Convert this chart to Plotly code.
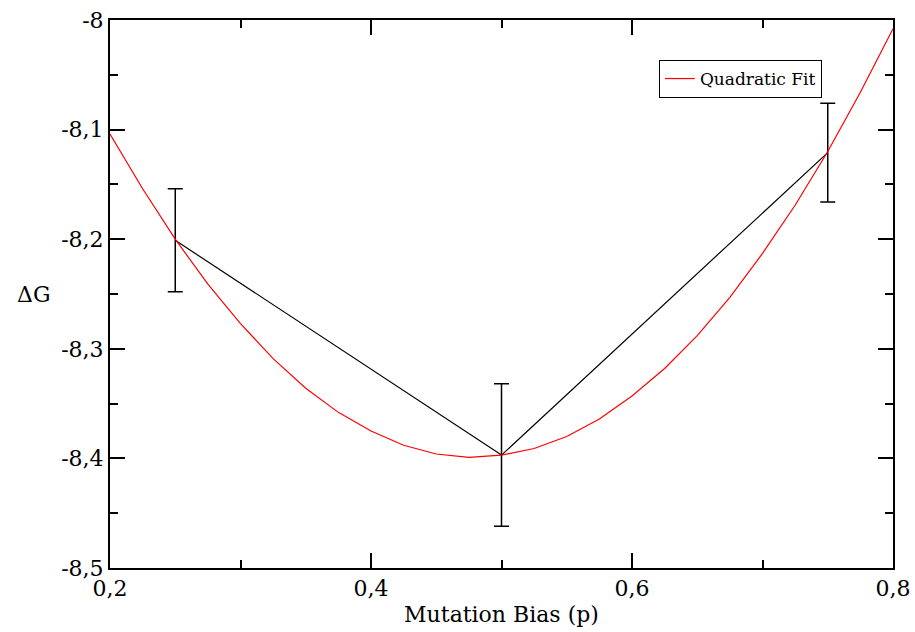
import plotly.graph_objects as go

# Data points with error bars
bias = [0.25, 0.5, 0.75]
delta_g = [-8.201, -8.397, -8.121]
delta_g_err = [0.047, 0.065, 0.045]

# Quadratic fit curve
fit_x = [0.2, 0.225, 0.25, 0.275, 0.3, 0.325, 0.35, 0.375, 0.4, 0.425, 0.45, 0.475,
         0.5, 0.525, 0.55, 0.575, 0.6, 0.625, 0.65, 0.675, 0.7, 0.725, 0.75, 0.775, 0.8]
fit_y = [-8.104, -8.154, -8.200, -8.241, -8.277, -8.309, -8.336, -8.358, -8.375, -8.388,
         -8.396, -8.399, -8.397, -8.391, -8.380, -8.364, -8.343, -8.318, -8.288, -8.253,
         -8.213, -8.169, -8.120, -8.066, -8.008]

x_ticks = [0.2, 0.4, 0.6, 0.8]
x_tick_text = ["0,2", "0,4", "0,6", "0,8"]
y_ticks = [-8.5, -8.4, -8.3, -8.2, -8.1, -8.0]
y_tick_text = ["-8,5", "-8,4", "-8,3", "-8,2", "-8,1", "-8"]

FONT = "DejaVu Serif"
TICKFONT = dict(family=FONT, size=22, color="black")

fig = go.Figure()
fig.add_trace(go.Scatter(
    x=bias, y=delta_g, mode="lines",
    line=dict(color="black", width=1.2),
    error_y=dict(type="data", array=delta_g_err, visible=True,
                 color="black", thickness=1.5, width=7.5),
    showlegend=False,
))
fig.add_trace(go.Scatter(
    x=fit_x, y=fit_y, mode="lines",
    line=dict(color="red", width=1.2),
    name="Quadratic Fit",
))

fig.update_layout(
    width=915, height=632,
    margin=dict(l=110, r=22, t=20, b=64),
    plot_bgcolor="white", paper_bgcolor="white",
    separators=",.",
    font=dict(family=FONT, size=22, color="black"),
    xaxis=dict(
        range=[0.2, 0.8], tickmode="array", tickvals=x_ticks, ticktext=x_tick_text,
        tickfont=TICKFONT, automargin=False,
        showgrid=False, zeroline=False, showline=True, linecolor="black", linewidth=2,
        mirror="allticks", ticks="inside", ticklen=15, tickwidth=1.5, tickcolor="black",
        minor=dict(dtick=0.1, tick0=0.2, ticks="inside", ticklen=8, tickwidth=1.5, tickcolor="black"),
        title=dict(text="Mutation Bias (p)", font=dict(family=FONT, size=22, color="black"), standoff=6),
    ),
    yaxis=dict(
        range=[-8.5, -8.0], tickmode="array", tickvals=y_ticks, ticktext=y_tick_text,
        tickfont=TICKFONT, automargin=False,
        showgrid=False, zeroline=False, showline=True, linecolor="black", linewidth=2,
        mirror="allticks", ticks="inside", ticklen=15, tickwidth=1.5, tickcolor="black",
        minor=dict(dtick=0.05, tick0=-8.5, ticks="inside", ticklen=8, tickwidth=1.5, tickcolor="black"),
    ),
    legend=dict(
        x=0.701, y=0.927, xanchor="left", yanchor="top",
        bgcolor="white", bordercolor="black", borderwidth=1,
        font=dict(family=FONT, size=17, color="black"),
    ),
)

fig.add_annotation(
    text="ΔG", xref="paper", yref="paper", x=-0.074, y=0.5, xanchor="right", yanchor="middle",
    showarrow=False, font=dict(family=FONT, size=22, color="black"),
)

fig.write_html("out.html")
